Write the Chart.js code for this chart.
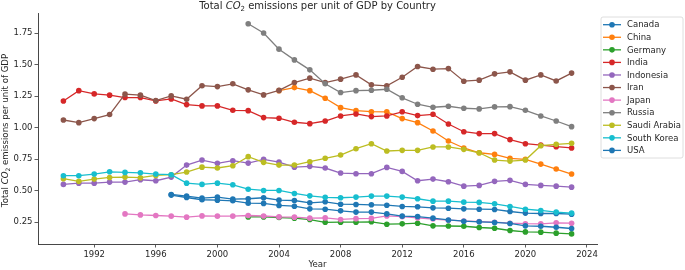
<!DOCTYPE html>
<html>
<head>
<meta charset="utf-8">
<script src="https://cdn.jsdelivr.net/npm/chart.js@4.4.1/dist/chart.umd.min.js"></script>
<style>
  html, body { margin: 0; padding: 0; background: #ffffff; }
  canvas { display: block; }
</style>
</head>
<body>
<canvas id="c" width="685" height="270"></canvas>
<script>
// ---------------- DATA ----------------
const years = [1990,1991,1992,1993,1994,1995,1996,1997,1998,1999,2000,2001,2002,2003,2004,2005,2006,2007,2008,2009,2010,2011,2012,2013,2014,2015,2016,2017,2018,2019,2020,2021,2022,2023];
const countries = ["Canada","China","Germany","India","Indonesia","Iran","Japan","Russia","Saudi Arabia","South Korea","USA"];
const xTicks = [1992,1996,2000,2004,2008,2012,2016,2020,2024];
const yTicks = [0.25,0.50,0.75,1.00,1.25,1.50,1.75];

const canada = [null,null,null,null,null,null,null,0.470,0.457,0.441,0.449,0.433,0.436,0.444,0.425,0.422,0.404,0.412,0.393,0.391,0.388,0.385,0.375,0.372,0.364,0.361,0.356,0.353,0.351,0.335,0.322,0.319,0.319,0.314];
const china = [null,null,null,null,null,null,null,null,null,null,null,null,null,null,1.294,1.318,1.294,1.233,1.159,1.135,1.127,1.126,1.072,1.040,0.974,0.894,0.839,0.801,0.788,0.757,0.749,0.711,0.672,0.632];
const germany = [null,null,null,null,null,null,null,null,null,null,null,null,0.292,0.292,0.287,0.282,0.271,0.249,0.250,0.250,0.253,0.234,0.237,0.242,0.221,0.220,0.218,0.208,0.202,0.184,0.173,0.171,0.163,0.157];
const india = [1.212,1.294,1.268,1.258,1.239,1.239,1.212,1.228,1.183,1.173,1.173,1.138,1.135,1.080,1.075,1.043,1.032,1.053,1.093,1.109,1.088,1.093,1.126,1.096,1.106,1.029,0.968,0.953,0.953,0.905,0.873,0.862,0.849,0.839];
const indonesia = [0.550,0.560,0.560,0.568,0.568,0.587,0.579,0.608,0.703,0.743,0.717,0.738,0.719,0.749,0.727,0.687,0.693,0.680,0.640,0.635,0.635,0.685,0.653,0.579,0.592,0.571,0.536,0.542,0.574,0.582,0.550,0.542,0.536,0.528];
const iran = [1.061,1.040,1.072,1.104,1.266,1.258,1.215,1.252,1.226,1.333,1.326,1.348,1.300,1.260,1.296,1.358,1.393,1.358,1.385,1.419,1.340,1.332,1.400,1.485,1.464,1.469,1.369,1.377,1.427,1.443,1.377,1.419,1.371,1.433];
const japan = [null,null,null,null,0.316,0.308,0.303,0.298,0.290,0.300,0.298,0.298,0.303,0.299,0.292,0.290,0.282,0.284,0.272,0.278,0.280,0.300,0.294,0.284,0.275,0.266,0.260,0.255,0.250,0.242,0.238,0.237,0.245,0.242];
const russia = [null,null,null,null,null,null,null,null,null,null,null,null,1.825,1.751,1.623,1.538,1.459,1.348,1.279,1.294,1.297,1.305,1.237,1.186,1.162,1.170,1.154,1.149,1.165,1.167,1.138,1.093,1.053,1.008];
const saudiArabia = [0.595,0.574,0.592,0.605,0.608,0.603,0.621,0.627,0.648,0.687,0.680,0.698,0.770,0.725,0.703,0.703,0.730,0.757,0.783,0.833,0.873,0.815,0.820,0.820,0.847,0.847,0.828,0.801,0.743,0.735,0.743,0.857,0.868,0.876];
const southKorea = [0.619,0.619,0.632,0.650,0.645,0.642,0.632,0.627,0.560,0.550,0.560,0.547,0.512,0.502,0.502,0.478,0.459,0.447,0.444,0.449,0.457,0.457,0.449,0.436,0.417,0.417,0.409,0.407,0.396,0.375,0.353,0.343,0.330,0.322];
const usa = [null,null,null,null,null,null,null,0.465,0.446,0.428,0.425,0.420,0.401,0.399,0.383,0.377,0.356,0.353,0.340,0.330,0.330,0.316,0.298,0.295,0.282,0.268,0.258,0.253,0.248,0.240,0.221,0.218,0.210,0.200];

const seriesValues = [canada, china, germany, india, indonesia, iran, japan, russia, saudiArabia, southKorea, usa];
const colors = ["#1f77b4","#ff7f0e","#2ca02c","#d62728","#9467bd","#8c564b","#e377c2","#7f7f7f","#bcbd22","#17becf","#1f77b4"];

// ---------------- CHART ----------------
const FONT = "'DejaVu Sans', sans-serif";
const TXT = "#262626";

const datasets = countries.map((name, i) => ({
  label: name,
  data: years.map((yr, j) => ({ x: yr, y: seriesValues[i][j] })),
  borderColor: colors[i],
  backgroundColor: colors[i],
  pointBackgroundColor: colors[i],
  pointBorderWidth: 0,
  pointRadius: 2.8,
  borderWidth: 1.3,
  tension: 0,
  fill: false,
  order: countries.length - i
}));

function drawRich(ctx, parts, x, y, align) {
  // parts: [{t, style, sub}]
  let total = 0;
  const sizes = parts.map(p => {
    ctx.font = p.font;
    const w = ctx.measureText(p.t).width;
    total += w;
    return w;
  });
  let cx = align === 'center' ? x - total / 2 : x;
  parts.forEach((p, i) => {
    ctx.font = p.font;
    ctx.fillText(p.t, cx, y + (p.dy || 0));
    cx += sizes[i];
  });
}

const decorPlugin = {
  id: 'decor',
  afterDraw(chart) {
    const ctx = chart.ctx;
    const area = chart.chartArea;
    ctx.save();
    ctx.fillStyle = TXT;
    ctx.textBaseline = 'middle';
    ctx.textAlign = 'left';
    // Title
    const ts = 10;
    drawRich(ctx, [
      { t: "Total ", font: ts + "px " + FONT },
      { t: "CO", font: "italic " + ts + "px " + FONT },
      { t: "2", font: (ts * 0.7) + "px " + FONT, dy: 2.5 },
      { t: " emissions per unit of GDP by Country", font: ts + "px " + FONT }
    ], (area.left + area.right) / 2, 6.5, 'center');

    // Y axis title
    ctx.save();
    ctx.translate(6, (area.top + area.bottom) / 2 + 2);
    ctx.rotate(-Math.PI / 2);
    const ys = 8.6;
    drawRich(ctx, [
      { t: "Total ", font: ys + "px " + FONT },
      { t: "CO", font: "italic " + ys + "px " + FONT },
      { t: "2", font: (ys * 0.7) + "px " + FONT, dy: 2.2 },
      { t: " emissions per unit of GDP", font: ys + "px " + FONT }
    ], 0, 0, 'center');
    ctx.restore();

    // Legend
    const lx = 601, ly = 17, lw = 82, lh = 141;
    ctx.beginPath();
    const r = 2;
    ctx.moveTo(lx + r, ly);
    ctx.lineTo(lx + lw - r, ly);
    ctx.arcTo(lx + lw, ly, lx + lw, ly + r, r);
    ctx.lineTo(lx + lw, ly + lh - r);
    ctx.arcTo(lx + lw, ly + lh, lx + lw - r, ly + lh, r);
    ctx.lineTo(lx + r, ly + lh);
    ctx.arcTo(lx, ly + lh, lx, ly + lh - r, r);
    ctx.lineTo(lx, ly + r);
    ctx.arcTo(lx, ly, lx + r, ly, r);
    ctx.closePath();
    ctx.fillStyle = "rgba(255,255,255,0.8)";
    ctx.fill();
    ctx.strokeStyle = "#d6d6d6";
    ctx.lineWidth = 0.8;
    ctx.stroke();

    countries.forEach((name, i) => {
      const yy = 24.7 + i * 12.57;
      ctx.strokeStyle = colors[i];
      ctx.lineWidth = 1.3;
      ctx.beginPath();
      ctx.moveTo(603, yy);
      ctx.lineTo(621, yy);
      ctx.stroke();
      ctx.fillStyle = colors[i];
      ctx.beginPath();
      ctx.arc(612, yy, 2.8, 0, Math.PI * 2);
      ctx.fill();
      ctx.fillStyle = TXT;
      ctx.font = "8.5px " + FONT;
      ctx.fillText(name, 627, yy + 0.5);
    });
    ctx.restore();
  }
};

new Chart(document.getElementById('c'), {
  type: 'line',
  data: { datasets },
  plugins: [decorPlugin],
  options: {
    responsive: false,
    animation: false,
    devicePixelRatio: 1,
    layout: { padding: { top: 13, right: 88, left: 0, bottom: 0 } },
    plugins: {
      legend: { display: false },
      title: { display: false },
      tooltip: { enabled: false }
    },
    scales: {
      x: {
        type: 'linear',
        min: 1988.35,
        max: 2024.65,
        afterFit(scale) { scale.height = 26; },
        afterBuildTicks(scale) { scale.ticks = xTicks.map(v => ({ value: v })); },
        grid: { drawOnChartArea: false, drawTicks: true, tickLength: 3.5, tickColor: '#333', tickWidth: 0.8 },
        border: { display: true, color: '#333', width: 0.9 },
        ticks: {
          color: TXT, padding: 2.5, maxRotation: 0, autoSkip: false,
          font: { family: FONT, size: 8.5 },
          callback: v => String(v)
        },
        title: { display: true, text: 'Year', color: TXT, font: { family: FONT, size: 8.6 }, padding: { top: 0, bottom: 0 } }
      },
      y: {
        type: 'linear',
        min: 0.077,
        max: 1.91,
        afterFit(scale) { scale.width = 38; },
        afterBuildTicks(scale) { scale.ticks = yTicks.map(v => ({ value: v })); },
        grid: { drawOnChartArea: false, drawTicks: true, tickLength: 3.5, tickColor: '#333', tickWidth: 0.8 },
        border: { display: true, color: '#333', width: 0.9 },
        ticks: {
          color: TXT, padding: 2, autoSkip: false,
          font: { family: FONT, size: 8.5 },
          callback: v => Number(v).toFixed(2)
        }
      }
    }
  }
});
</script>
</body>
</html>
